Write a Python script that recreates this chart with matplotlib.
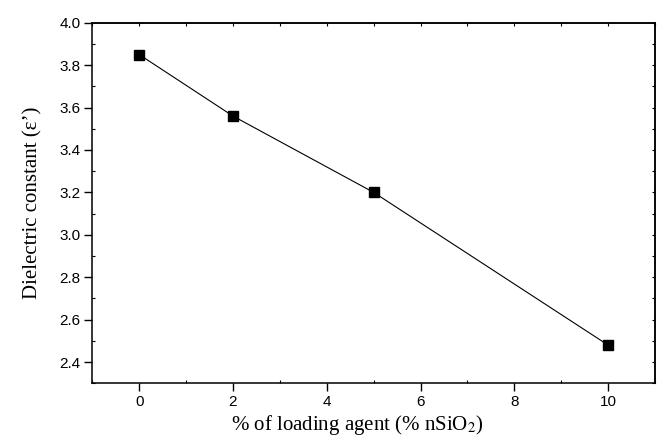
import numpy as np
import matplotlib
matplotlib.use("Agg")
import matplotlib.pyplot as plt
from matplotlib.ticker import MultipleLocator

loading = [0, 2, 5, 10]
dielectric = [3.85, 3.56, 3.20, 2.48]

plt.rcParams["mathtext.fontset"] = "stix"

fig = plt.figure(figsize=(6.61, 4.42), dpi=100)
ax = fig.add_axes([0.1396, 0.1328, 0.9910 - 0.1396, 0.9486 - 0.1328])

ax.plot(loading, dielectric, color="black", lw=0.8, marker="s",
        markersize=7, markeredgecolor="black", markerfacecolor="black")

ax.set_xlim(-1, 11)
ax.set_ylim(2.3, 4.0)
ax.xaxis.set_major_locator(MultipleLocator(2))
ax.xaxis.set_minor_locator(MultipleLocator(1))
ax.yaxis.set_major_locator(MultipleLocator(0.2))
ax.yaxis.set_minor_locator(MultipleLocator(0.1))
ax.yaxis.set_major_formatter(matplotlib.ticker.FormatStrFormatter("%.1f"))

for s in ax.spines.values():
    s.set_linewidth(1.1)

ax.tick_params(which="major", direction="out", length=5.5, width=1.0,
               labelsize=11, pad=3)
ax.tick_params(which="minor", direction="in", length=2.5, width=0.8)
for lab in ax.get_xticklabels() + ax.get_yticklabels():
    lab.set_family("Liberation Sans")

# inward ticks on top and right
top = ax.secondary_xaxis("top")
top.xaxis.set_major_locator(MultipleLocator(2))
top.xaxis.set_minor_locator(MultipleLocator(1))
top.tick_params(which="both", direction="in", length=2.5, width=0.8, labeltop=False)
right = ax.secondary_yaxis("right")
right.yaxis.set_major_locator(MultipleLocator(0.2))
right.yaxis.set_minor_locator(MultipleLocator(0.1))
right.tick_params(which="both", direction="in", length=2.5, width=0.8, labelright=False)
for sa in (top, right):
    for s in sa.spines.values():
        s.set_linewidth(1.1)

ax.set_xlabel("% of loading agent (% nSiO$_2$)", family="Liberation Serif",
              fontsize=15)
ax.xaxis.set_label_coords(0.47, -0.082)
ax.set_ylabel("Dielectric constant (ε’)", family="Liberation Serif",
              fontsize=15, labelpad=12)

fig.savefig("out.png", dpi=100)
